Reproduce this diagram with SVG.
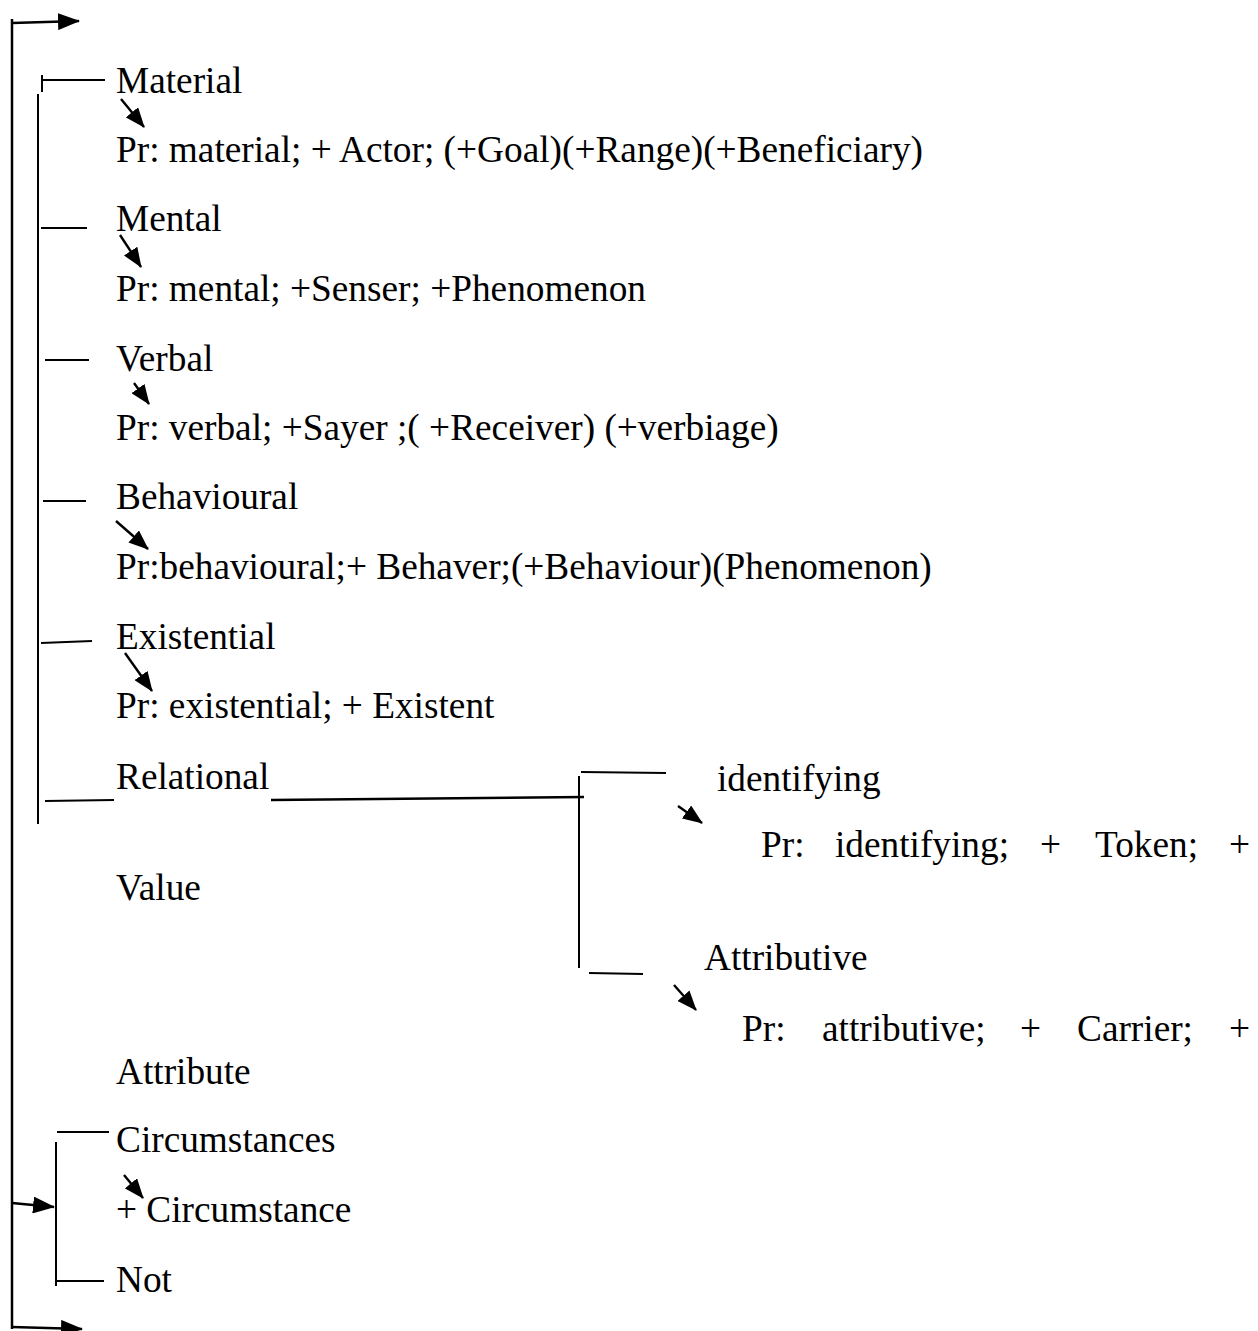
<svg xmlns="http://www.w3.org/2000/svg" width="1258" height="1331" viewBox="0 0 1258 1331">
<defs>
<style>
text{font-family:"Liberation Serif","Times New Roman",serif;font-size:37.3px;fill:#000}
.ln{stroke:#000;stroke-width:2.5;fill:none}
.th{stroke:#000;stroke-width:2;fill:none}
.ar{stroke:#000;stroke-width:2.6;fill:none;marker-end:url(#ah)}
.da{stroke:#000;stroke-width:2.4;fill:none;marker-end:url(#ahs)}
</style>
<marker id="ah" viewBox="0 0 22 17" refX="21" refY="8.5" markerWidth="22" markerHeight="17" markerUnits="userSpaceOnUse" orient="auto"><path d="M0,0 L22,8.5 L0,17 z" fill="#000"/></marker>
<marker id="ahs" viewBox="0 0 20 16" refX="19" refY="8" markerWidth="20" markerHeight="16" markerUnits="userSpaceOnUse" orient="auto"><path d="M0,0 L20,8 L0,16 z" fill="#000"/></marker>
</defs>
<rect width="1258" height="1331" fill="#fff"/>
<g id="connectors">
<line class="ln" x1="12" y1="19" x2="12" y2="1329"/>
<line class="ar" x1="12" y1="23" x2="79" y2="21"/>
<line class="ar" x1="12" y1="1203" x2="54" y2="1207"/>
<line class="ar" x1="12" y1="1327" x2="82" y2="1329"/>
<line class="th" x1="38" y1="94" x2="38" y2="824"/>
<line class="th" x1="42" y1="75" x2="42" y2="92"/>
<line class="th" x1="42" y1="80" x2="105" y2="80"/>
<line class="th" x1="41" y1="228" x2="87" y2="228"/>
<line class="th" x1="45" y1="360" x2="89" y2="360"/>
<line class="th" x1="43" y1="501" x2="86" y2="501"/>
<line class="th" x1="41" y1="643" x2="92" y2="641"/>
<line class="th" x1="45" y1="801" x2="114" y2="800"/>
<line class="ln" x1="271" y1="800" x2="584" y2="797"/>
<line class="th" x1="579" y1="776" x2="579" y2="968"/>
<line class="th" x1="581" y1="772" x2="666" y2="773"/>
<line class="th" x1="589" y1="973" x2="643" y2="974"/>
<line class="th" x1="56" y1="1142" x2="56" y2="1286"/>
<line class="th" x1="57" y1="1132" x2="109" y2="1132"/>
<line class="th" x1="57" y1="1281" x2="104" y2="1281"/>
<line class="da" x1="121" y1="99" x2="144" y2="127"/>
<line class="da" x1="120" y1="235" x2="141" y2="267"/>
<line class="da" x1="134" y1="383" x2="149" y2="404"/>
<line class="da" x1="116" y1="521" x2="148" y2="549"/>
<line class="da" x1="125" y1="653" x2="152" y2="691"/>
<line class="da" x1="678" y1="806" x2="702" y2="823"/>
<line class="da" x1="674" y1="985" x2="696" y2="1010"/>
<line class="da" x1="124" y1="1175" x2="143" y2="1198"/>
</g>
<g id="material"><text x="116" y="93">Material</text><text x="116" y="162">Pr: material; + Actor; (+Goal)(+Range)(+Beneficiary)</text></g>
<g id="mental"><text x="116" y="231">Mental</text><text x="116" y="301">Pr: mental; +Senser; +Phenomenon</text></g>
<g id="verbal"><text x="116" y="371">Verbal</text><text x="116" y="440">Pr: verbal; +Sayer ;( +Receiver) (+verbiage)</text></g>
<g id="behavioural"><text x="116" y="509">Behavioural</text><text x="116" y="579">Pr:behavioural;+ Behaver;(+Behaviour)(Phenomenon)</text></g>
<g id="existential"><text x="116" y="649">Existential</text><text x="116" y="718">Pr: existential; + Existent</text></g>
<g id="relational"><text x="116" y="789">Relational</text></g>
<g id="identifying"><text x="717" y="791">identifying</text><text y="857"><tspan x="761">Pr:</tspan><tspan x="835">identifying;</tspan><tspan x="1040">+</tspan><tspan x="1095">Token;</tspan><tspan x="1229">+</tspan></text><text x="116" y="900">Value</text></g>
<g id="attributive"><text x="704" y="970">Attributive</text><text y="1041"><tspan x="742">Pr:</tspan><tspan x="822">attributive;</tspan><tspan x="1020">+</tspan><tspan x="1077">Carrier;</tspan><tspan x="1229">+</tspan></text><text x="116" y="1084">Attribute</text></g>
<g id="circumstances"><text x="116" y="1152">Circumstances</text><text x="116" y="1222">+ Circumstance</text></g>
<g id="not"><text x="116" y="1292">Not</text></g>
</svg>
